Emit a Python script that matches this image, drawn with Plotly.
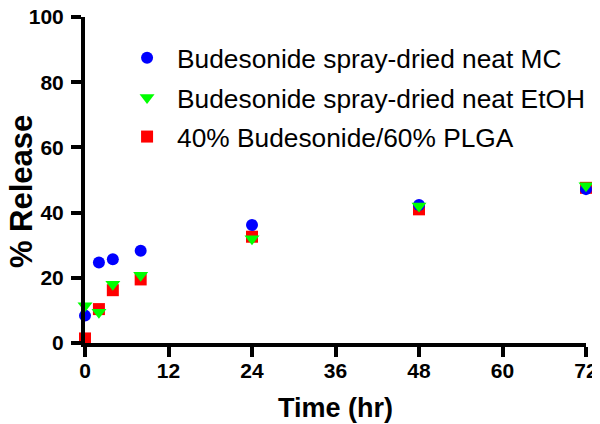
import plotly.graph_objects as go

time_hr = [0, 2, 4, 8, 24, 48, 72]
mc_release = [8.4, 24.7, 25.7, 28.3, 36.2, 42.3, 47.2]
etoh_release = [11.4, 9.4, 18.0, 20.8, 32.0, 42.0, 48.2]
plga_release = [1.4, 10.4, 16.2, 19.5, 32.6, 41.0, 47.6]

names = ["Budesonide spray-dried neat MC",
         "Budesonide spray-dried neat EtOH",
         "40% Budesonide/60% PLGA"]
x_ticks = [0, 12, 24, 36, 48, 60, 72]
y_ticks = [0, 20, 40, 60, 80, 100]

fig = go.Figure()
fig.add_trace(go.Scatter(x=time_hr, y=plga_release, mode="markers", name=names[2],
                         marker=dict(symbol="square", size=12, color="#ff0000"),
                         cliponaxis=False, legend="legend3"))
fig.add_trace(go.Scatter(x=time_hr, y=mc_release, mode="markers", name=names[0],
                         marker=dict(symbol="circle", size=12, color="#0000ff"),
                         cliponaxis=False, legend="legend"))
fig.add_trace(go.Scatter(x=time_hr, y=etoh_release, mode="markers", name=names[1],
                         marker=dict(symbol="triangle-down", size=13, color="#00ff00"),
                         cliponaxis=False, legend="legend2"))

leg_font = dict(family="Liberation Sans", size=26.3, color="black")

def leg(yc):
    return dict(x=0.064, y=yc, xanchor="left", yanchor="middle", font=leg_font,
                bgcolor="rgba(0,0,0,0)", itemwidth=50)

axis_font = dict(family="Liberation Sans", size=21, color="black")
fig.update_layout(
    width=600, height=424,
    margin=dict(l=77, r=22, t=9, b=89),
    plot_bgcolor="white", paper_bgcolor="white",
    font=dict(family="Liberation Sans", size=20, color="black"),
    showlegend=True,
    legend=leg(0.874), legend2=leg(0.752), legend3=leg(0.632),
    xaxis=dict(range=[0, 72], tickvals=x_ticks, ticktext=[f"<b>{v}</b>" for v in x_ticks],
               showline=True, linewidth=4, linecolor="black", mirror=False,
               ticks="outside", ticklen=10, tickwidth=4, tickcolor="black",
               showgrid=False, zeroline=False, tickfont=axis_font, automargin=False,
               ticklabeloverflow="allow", ticklabelstandoff=-4,
               title=dict(text="<b>Time (hr)</b>", font=dict(family="Liberation Sans", size=27), standoff=18)),
    yaxis=dict(range=[0, 100], tickvals=y_ticks, ticktext=[f"<b>{v}</b>" for v in y_ticks],
               showline=True, linewidth=4, linecolor="black", mirror=False,
               ticks="outside", ticklen=10, tickwidth=4, tickcolor="black",
               showgrid=False, zeroline=False, tickfont=axis_font, automargin=False,
               ticklabeloverflow="allow", ticklabelstandoff=3),
    annotations=[dict(text="<b>% Release</b>", textangle=-90, showarrow=False,
                      xref="paper", yref="paper", x=-0.1277, y=0.463,
                      xanchor="center", yanchor="middle",
                      font=dict(family="Liberation Sans", size=31, color="black"))],
)

fig.write_html("out.html")
